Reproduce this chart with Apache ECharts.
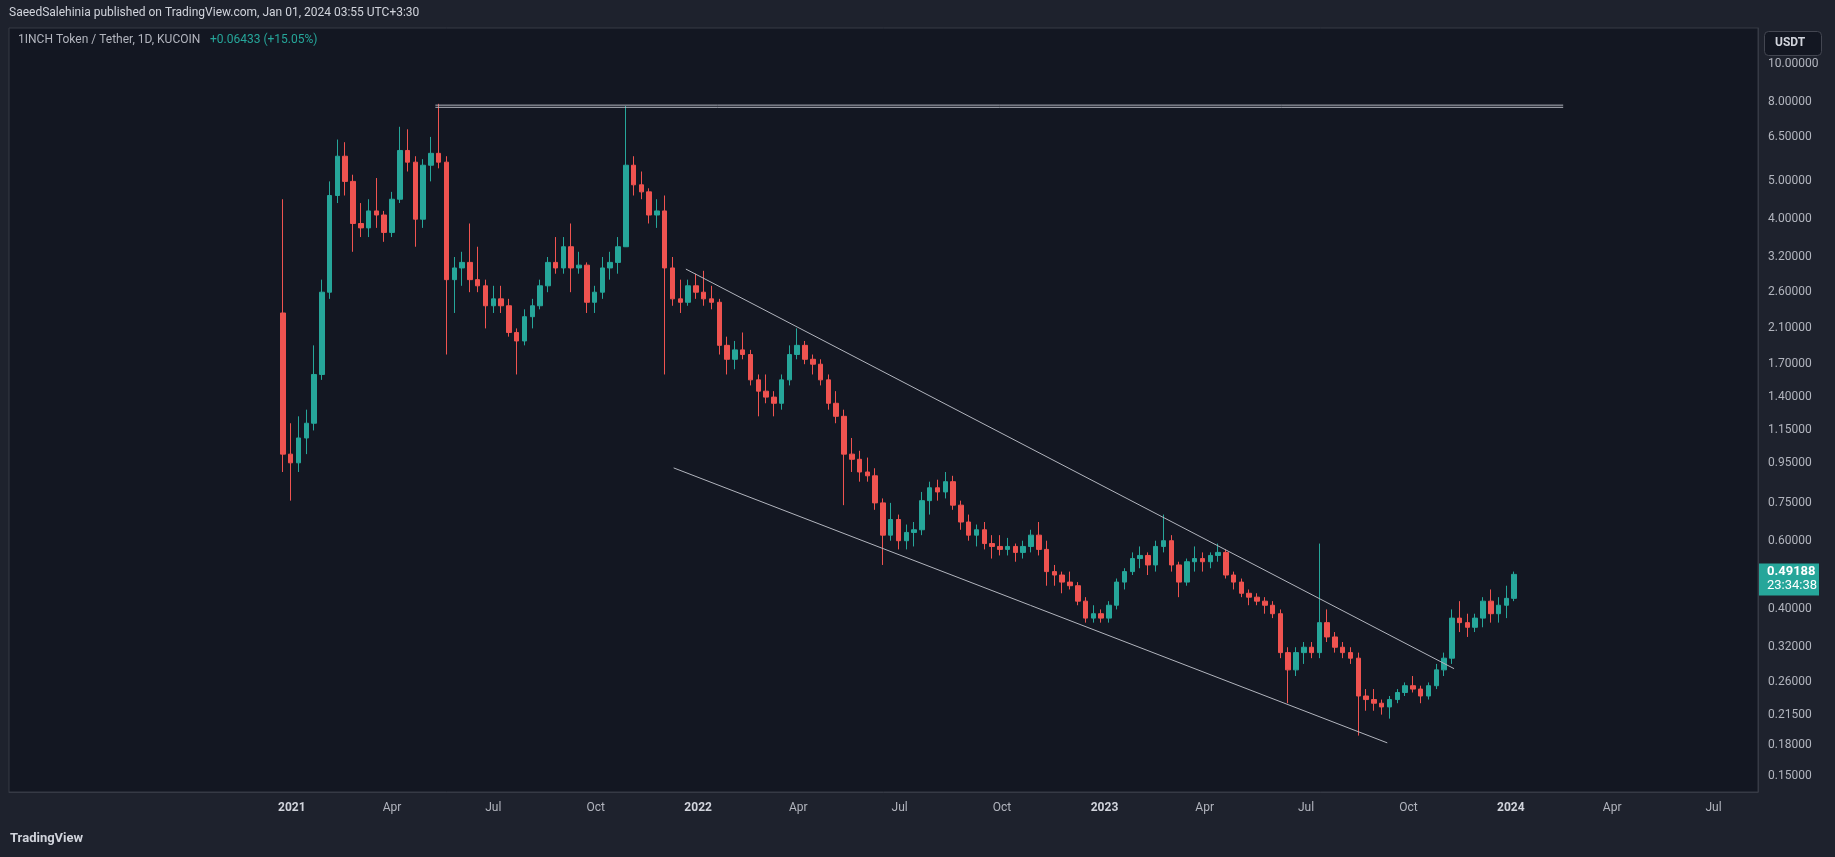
<!DOCTYPE html>
<html>
<head>
<meta charset="utf-8">
<script src="https://cdn.jsdelivr.net/npm/echarts@6/dist/echarts.min.js"></script>
<style>
html,body{margin:0;padding:0;background:#1e222d;}
#chart{width:1835px;height:857px;}
</style>
</head>
<body>
<div id="chart"></div>
<script>
'use strict';
// weekly candles, week starting Monday (first one starts the listing week)
var firstWeek = '2020-12-21';
var firstOpen = 2.3;
var closes = [1.0,0.95,1.1,1.2,1.6,2.6,4.6,5.8,5.0,3.9,3.8,4.2,4.1,3.7,4.5,6.0,5.6,4.0,5.5,5.9,
  5.6,2.8,3.0,3.1,2.8,2.7,2.4,2.5,2.4,2.05,1.95,2.25,2.4,2.7,3.1,3.0,3.4,3.0,3.05,2.45,
  2.6,3.0,3.1,3.4,5.5,4.9,4.7,4.1,4.2,3.0,2.5,2.45,2.7,2.6,2.5,2.45,1.9,1.75,1.85,1.8,
  1.55,1.45,1.4,1.35,1.55,1.8,1.9,1.75,1.7,1.55,1.35,1.25,1.0,0.97,0.9,0.88,0.75,0.62,0.68,0.6,
  0.63,0.64,0.76,0.82,0.8,0.85,0.74,0.67,0.62,0.64,0.59,0.58,0.57,0.58,0.56,0.58,0.62,0.57,0.5,0.49,
  0.47,0.46,0.42,0.38,0.39,0.38,0.41,0.47,0.5,0.54,0.55,0.52,0.58,0.6,0.52,0.47,0.53,0.54,0.53,0.55,
  0.56,0.49,0.47,0.44,0.43,0.42,0.41,0.39,0.31,0.28,0.31,0.32,0.31,0.37,0.34,0.32,0.31,0.3,0.24,0.235,
  0.23,0.225,0.235,0.245,0.255,0.25,0.24,0.255,0.28,0.3,0.38,0.37,0.36,0.38,0.42,0.39,0.41,0.427,0.49188];
var highs = [4.5,1.2,1.25,1.3,1.9,2.8,5.0,6.4,6.3,5.2,4.4,4.5,5.1,4.2,4.7,6.9,6.8,5.8,5.7,6.5,
  7.9,5.8,3.2,3.3,3.9,3.4,2.8,2.7,2.7,2.5,2.1,2.35,2.5,2.8,3.2,3.6,3.6,3.9,3.3,3.1,
  2.7,3.2,3.3,3.6,7.8,5.8,5.3,4.8,4.5,4.6,3.2,2.8,2.8,2.9,2.95,2.7,2.5,2.0,1.95,2.05,
  1.85,1.6,1.6,1.45,1.6,1.9,2.1,1.95,1.8,1.75,1.6,1.45,1.3,1.1,1.02,0.98,0.92,0.77,0.75,0.7,
  0.66,0.67,0.8,0.85,0.86,0.9,0.88,0.76,0.7,0.66,0.67,0.62,0.62,0.61,0.59,0.6,0.64,0.67,0.6,0.52,
  0.5,0.5,0.47,0.43,0.41,0.4,0.42,0.48,0.51,0.56,0.58,0.56,0.6,0.7,0.62,0.53,0.54,0.58,0.56,0.56,
  0.59,0.57,0.5,0.48,0.45,0.44,0.43,0.42,0.4,0.32,0.32,0.33,0.33,0.59,0.4,0.35,0.33,0.32,0.31,0.25,
  0.25,0.235,0.24,0.25,0.26,0.27,0.255,0.26,0.29,0.31,0.4,0.42,0.39,0.39,0.43,0.45,0.43,0.46,0.5];
var lows = [0.9,0.76,0.9,1.0,1.15,1.55,2.5,4.4,4.6,3.3,3.6,3.6,3.8,3.5,3.6,4.4,5.3,3.4,3.8,5.0,
  5.4,1.8,2.3,2.7,2.6,2.6,2.1,2.3,2.3,2.0,1.6,1.9,2.1,2.35,2.6,2.9,2.9,2.6,2.9,2.3,
  2.3,2.5,2.8,2.9,3.4,4.6,4.5,3.9,3.8,1.6,2.4,2.3,2.4,2.5,2.4,2.35,1.8,1.6,1.65,1.75,
  1.5,1.25,1.35,1.25,1.3,1.5,1.75,1.7,1.6,1.5,1.3,1.2,0.74,0.9,0.85,0.85,0.72,0.52,0.6,0.57,
  0.57,0.58,0.62,0.7,0.76,0.77,0.72,0.64,0.6,0.58,0.57,0.54,0.55,0.55,0.53,0.54,0.56,0.55,0.46,0.46,
  0.44,0.45,0.41,0.37,0.37,0.37,0.37,0.4,0.45,0.49,0.51,0.49,0.5,0.56,0.5,0.43,0.46,0.5,0.5,0.51,
  0.53,0.48,0.45,0.43,0.41,0.41,0.39,0.38,0.3,0.23,0.27,0.29,0.3,0.3,0.33,0.31,0.3,0.29,0.19,0.22,
  0.22,0.215,0.21,0.23,0.24,0.245,0.23,0.235,0.25,0.27,0.29,0.35,0.34,0.35,0.36,0.37,0.37,0.38,0.42];

// axis labels
var priceTicks = [0.15,0.18,0.215,0.26,0.32,0.4,0.6,0.75,0.95,1.15,1.4,1.7,2.1,2.6,3.2,4.0,5.0,6.5,8.0,10.0];
var dateTicks = ['2021-01-01','2021-04-01','2021-07-01','2021-10-01','2022-01-01','2022-04-01','2022-07-01','2022-10-01',
  '2023-01-01','2023-04-01','2023-07-01','2023-10-01','2024-01-01','2024-04-01','2024-07-01'];

// drawn lines: [date, price]
var topLine = [['2021-05-10',7.84],['2024-02-17',7.84]];
var topLine2 = [['2021-05-10',7.74],['2024-02-17',7.74]];
var upperChannel = [['2021-12-21',2.98],['2023-11-11',0.282]];
var lowerChannel = [['2021-12-10',0.922],['2023-09-12',0.182]];

var lg = function (v) { return Math.log10(v); };
var ts = function (d) { return new Date(d + 'T00:00:00Z').getTime(); };
var DAY = 86400000;
var t0 = ts(firstWeek);
var candles = closes.map(function (c, i) {
    var o = i === 0 ? firstOpen : closes[i - 1];
    return [t0 + i * 7 * DAY + 3 * DAY, lg(o), lg(c), lg(lows[i]), lg(highs[i])];
});
var toLine = function (arr) {
    return arr.map(function (p) { return [ts(p[0]), lg(p[1])]; });
};
var mon = ['Jan','Feb','Mar','Apr','May','Jun','Jul','Aug','Sep','Oct','Nov','Dec'];
var lineStyle = {color: '#b2b5be', width: 1};

var chart = echarts.init(document.getElementById('chart'));
var option = {
    backgroundColor: '#1e222d',
    animation: false,
    grid: {left: 9, right: 77, top: 28, bottom: 65, show: true, backgroundColor: '#131722', borderColor: '#363a45', borderWidth: 1},
    xAxis: {
        type: 'value',
        min: ts('2020-04-22'),
        max: ts('2024-08-10'),
        splitLine: {show: false},
        axisLine: {onZero: false, lineStyle: {color: '#363a45'}},
        axisTick: {show: false},
        axisLabel: {
            customValues: dateTicks.map(ts),
            color: '#b2b5be', fontSize: 12, fontFamily: 'Roboto', margin: 10,
            formatter: function (v) {
                var d = new Date(v);
                return d.getUTCMonth() === 0 ? '{y|' + d.getUTCFullYear() + '}' : mon[d.getUTCMonth()];
            },
            rich: {y: {color: '#d1d4dc', fontSize: 12, fontWeight: 'bold', fontFamily: 'Roboto'}}
        }
    },
    yAxis: {
        type: 'value',
        position: 'right',
        min: lg(0.1362), max: lg(12.36),
        splitLine: {show: false},
        axisLine: {show: true, onZero: false, lineStyle: {color: '#363a45'}},
        axisTick: {show: false},
        axisLabel: {
            customValues: priceTicks.map(lg),
            color: '#b2b5be', fontSize: 12, fontFamily: 'Roboto', margin: 10,
            formatter: function (v) { return Math.pow(10, v).toFixed(5); }
        }
    },
    series: [
        {
            type: 'candlestick',
            data: candles,
            barWidth: 5,
            itemStyle: {color: '#26a69a', color0: '#ef5350', borderColor: '#26a69a', borderColor0: '#ef5350', borderWidth: 1}
        },
        {type: 'line', data: toLine(topLine), symbol: 'none', lineStyle: lineStyle, silent: true},
        {type: 'line', data: toLine(topLine2), symbol: 'none', lineStyle: lineStyle, silent: true},
        {type: 'line', data: toLine(upperChannel), symbol: 'none', lineStyle: lineStyle, silent: true},
        {type: 'line', data: toLine(lowerChannel), symbol: 'none', lineStyle: lineStyle, silent: true}
    ]
};
chart.setOption(option);

var lastY = chart.convertToPixel({yAxisIndex: 0}, lg(closes[closes.length - 1]));
chart.setOption({
    graphic: [
        {type: 'text', left: 9, top: 7, style: {text: 'SaeedSalehinia published on TradingView.com, Jan 01, 2024 03:55 UTC+3:30', fill: '#d1d4dc', font: '12px Roboto'}},
        {type: 'text', left: 18, top: 34, style: {text: '1INCH Token / Tether, 1D, KUCOIN', fill: '#b2b5be', font: '12px Roboto'}},
        {type: 'text', left: 210, top: 34, style: {text: '+0.06433 (+15.05%)', fill: '#26a69a', font: '12px Roboto'}},
        {type: 'rect', left: 1764, top: 31, shape: {width: 57, height: 24, r: 4}, style: {fill: '#131722', stroke: '#434651'}},
        {type: 'text', left: 1775, top: 37, style: {text: 'USDT', fill: '#d1d4dc', font: 'bold 12px Roboto'}},
        {type: 'rect', left: 1759, top: lastY - 11, shape: {width: 60, height: 32}, style: {fill: '#26a69a'}},
        {type: 'text', left: 1767, top: lastY - 9, style: {text: '0.49188', fill: '#ffffff', font: 'bold 13px Roboto'}},
        {type: 'text', left: 1767, top: lastY + 5, style: {text: '23:34:38', fill: '#ffffff', font: '13px Roboto'}},
        {type: 'text', left: 10, top: 832, style: {text: 'TradingView', fill: '#d1d4dc', font: 'bold 13px Roboto'}}
    ]
});
</script>
</body>
</html>
